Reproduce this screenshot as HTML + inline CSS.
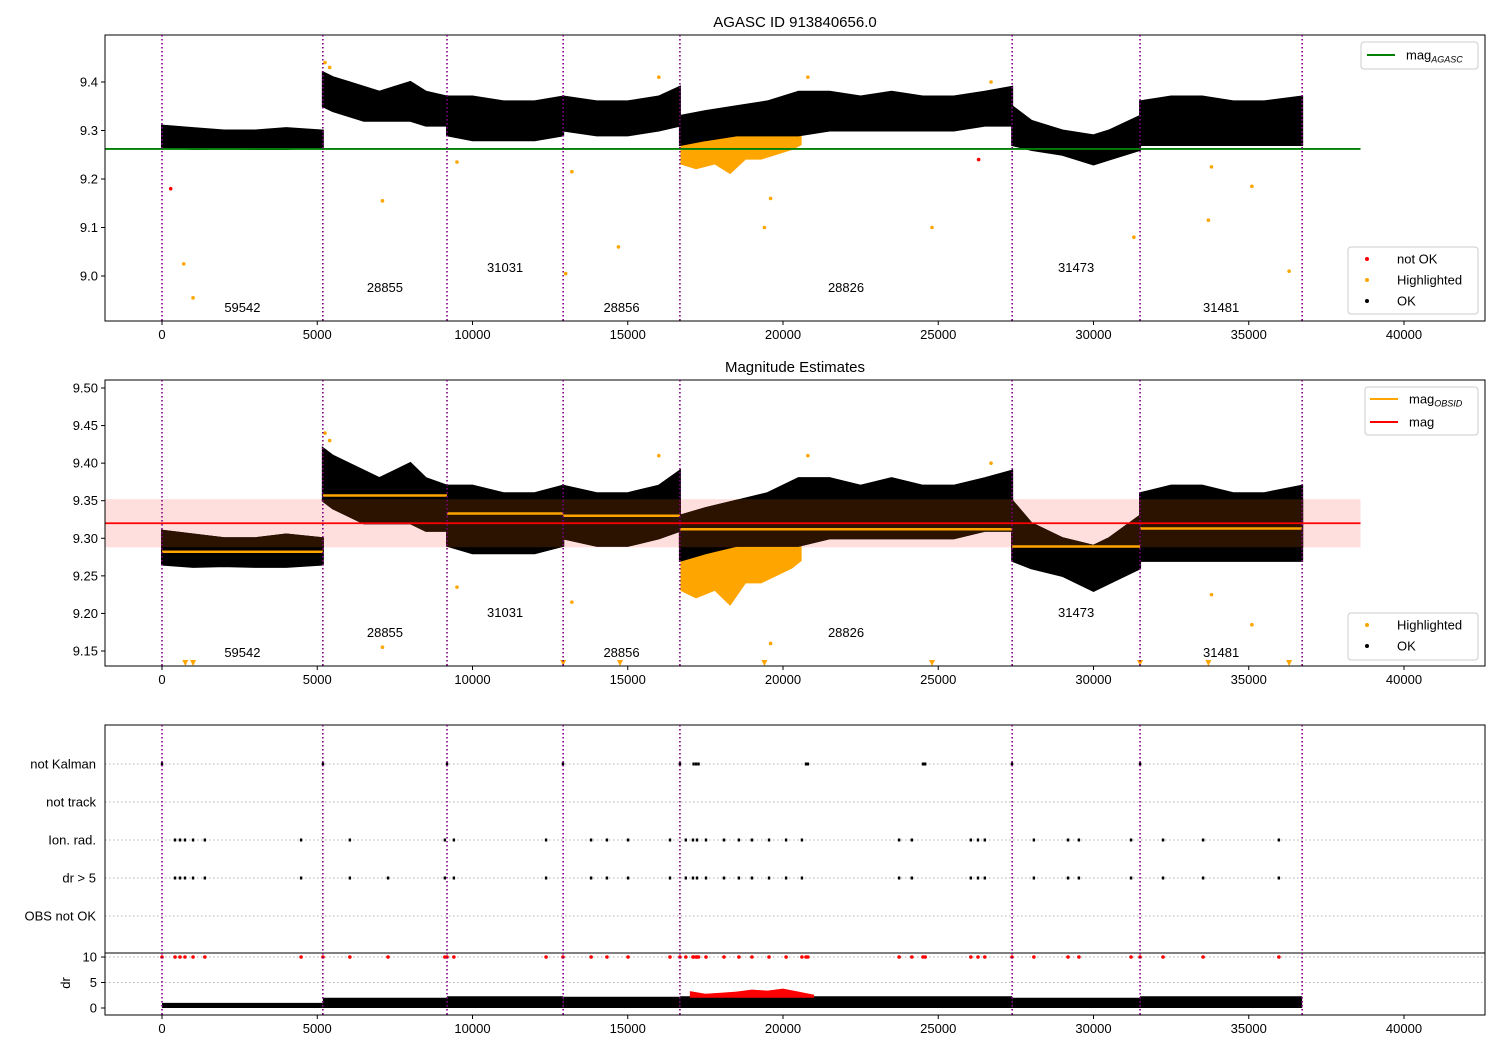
<!DOCTYPE html>
<html><head><meta charset="utf-8"><style>
body{margin:0;background:#fff;}
svg{display:block;font-family:"Liberation Sans","DejaVu Sans",sans-serif;}
</style></head><body>
<svg id="fig" width="1500" height="1050" viewBox="0 0 1500 1050">
<rect width="1500" height="1050" fill="#fff"/>
</svg>
<script>
// ---------------- data ----------------
const segStart = [0,5180,9180,12920,16680,27380,31500];
const segEnd   = [5180,9180,12920,16680,27380,31500,36720];
const obsids   = ['59542','28855','31031','28856','28826','31473','31481'];
const obsMag   = [9.282,9.357,9.333,9.330,9.312,9.289,9.313];
const labelLevel = [0,1,2,0,1,2,0];
const bandT  = [[0,1000,2000,3000,4000,5180],[5180,5500,6000,6500,7000,7500,8000,8500,9180],[9180,10000,11000,12000,12920],[12920,14000,15000,16000,16680],[16680,17500,18500,19500,20500,21500,22500,23500,24500,25500,26500,27380],[27380,28000,29000,30000,30500,31500],[31500,32500,33500,34500,35500,36720]];
const bandHi = [[9.31,9.305,9.30,9.30,9.305,9.30],[9.42,9.41,9.40,9.39,9.38,9.39,9.40,9.38,9.37],[9.37,9.37,9.36,9.36,9.37],[9.37,9.36,9.36,9.37,9.39],[9.33,9.34,9.35,9.36,9.38,9.38,9.37,9.38,9.37,9.37,9.38,9.39],[9.35,9.32,9.30,9.29,9.30,9.33],[9.36,9.37,9.37,9.36,9.36,9.37]];
const bandLo = [[9.265,9.262,9.263,9.262,9.262,9.265],[9.35,9.34,9.33,9.32,9.32,9.32,9.32,9.31,9.31],[9.29,9.28,9.28,9.28,9.29],[9.30,9.29,9.29,9.30,9.31],[9.27,9.28,9.29,9.29,9.29,9.30,9.30,9.30,9.30,9.30,9.31,9.31],[9.27,9.26,9.25,9.23,9.24,9.26],[9.27,9.27,9.27,9.27,9.27,9.27]];
const hlT  = [16700,17200,17800,18300,18800,19300,19800,20300,20600];
const hlLo = [9.23,9.22,9.23,9.21,9.24,9.24,9.25,9.26,9.27];
const outT   = [700,1000,7100,9500,13000,13200,14700,19400,19600,24800,31300,33700,33800,35100,36300,5250,5400,16000,20800,26700];
const outMag = [9.025,8.955,9.155,9.235,9.005,9.215,9.06,9.10,9.16,9.10,9.08,9.115,9.225,9.185,9.01,9.44,9.43,9.41,9.41,9.40];
const badT   = [280,26300];
const badMag = [9.18,9.24];
const triT = [750,1000,12920,14750,19400,24800,31500,33700,36300];
const magAgasc = 9.262;
const magMean = 9.320, magLo = 9.288, magHi = 9.352;
const flagRows = ['not Kalman','not track','Ion. rad.','dr > 5','OBS not OK'];
const kalmanT = [0,5185,9180,12915,16680,17120,17200,17280,20740,20800,24510,24580,27375,31500];
const ionT = [420,580,740,1000,1380,4480,6050,9110,9400,12370,13820,14330,15010,16360,16870,17100,17230,17520,18100,18580,19000,19550,20100,20610,23740,24150,26050,26280,26500,28080,29180,29530,31210,32240,33530,35970];
const drBigT = [420,580,740,1000,1380,4480,6050,7280,9110,9400,12370,13820,14330,15010,16360,16870,17100,17230,17520,18100,18580,19000,19550,20100,20610,23740,24150,26050,26280,26500,28080,29180,29530,31210,32240,33530,35970];
const drHi = [1.0,2.0,2.3,2.2,2.3,2.0,2.3];
const drRedT = [17000,17500,18000,18500,19000,19500,20000,20500,21000];
const drRedV = [3.3,2.8,3.0,3.2,3.6,3.4,3.8,3.2,2.6];
const xTicks = [0,5000,10000,15000,20000,25000,30000,35000,40000];
const y1Ticks = [9.0,9.1,9.2,9.3,9.4];
const y2Ticks = [9.15,9.20,9.25,9.30,9.35,9.40,9.45,9.50];
const drTicks = [0,5,10];

// ---------------- scales ----------------
const X = t => 162 + t*0.03105;
const Y1 = m => 82 + (9.4-m)*485;
const Y2 = m => 388 + (9.5-m)*751.4;
const rowY = i => 764 + i*38;
const Yd = v => 1008 - v*5.1;
const svg = document.getElementById('fig');
const NS='http://www.w3.org/2000/svg';
function mk(tag, at, parent){const e=document.createElementNS(NS,tag);for(const k in at)e.setAttribute(k,at[k]);(parent||svg).appendChild(e);return e;}
function txt(s,x,y,at){const e=mk('text',Object.assign({x:x,y:y,'font-size':13,fill:'#000'},at||{}));e.textContent=s;return e;}

const panels=[{y0:35,y1:321,Y:Y1,ticks:y1Ticks,dec:1},{y0:380,y1:666,Y:Y2,ticks:y2Ticks,dec:2}];

function clip(id,x,y0,w,y1){const d=mk('clipPath',{id:id});mk('rect',{x:x,y:y0,width:w,height:y1-y0},d);}
clip('c1',105,35,1380,321);clip('c2',105,380,1380,666);clip('c3',105,725,1380,1015);
clip('cpink',105,Y2(magHi),X(38600)-105,Y2(magLo));

function bandPoints(p,si){
  const ts=bandT[si];
  const a=ts.map((t,i)=>X(t)+','+p.Y(bandHi[si][i]));
  const b=ts.map((t,i)=>X(t)+','+p.Y(bandLo[si][i])).reverse();
  return a.concat(b).join(' ');
}

panels.forEach((p,pi)=>{
  const g=mk('g',{'clip-path':'url(#c'+(pi+1)+')'});
  
  
  if(pi===1){
    const band=mk('rect',{x:105,y:p.Y(magHi),width:X(38600)-105,height:p.Y(magLo)-p.Y(magHi),fill:'#ffdede'},g);
    
    
  }
  let pts=hlT.map((t,i)=>X(t)+','+p.Y(hlLo[i])).join(' ')+' '+X(hlT[hlT.length-1])+','+p.Y(9.29)+' '+X(hlT[0])+','+p.Y(9.29);
  const hl=mk('polygon',{points:pts,fill:'orange'},g);
  
  
  bandT.forEach((ts,si)=>{
    const poly=mk('polygon',{points:bandPoints(p,si),fill:'#000',stroke:'#000','stroke-width':2},g);
    
    
  });
  if(pi===1){
    const gp=mk('g',{'clip-path':'url(#cpink)'},g);
    bandT.forEach((ts,si)=>{
      const ov=mk('polygon',{points:bandPoints(p,si),fill:'#2b1300',stroke:'#2b1300','stroke-width':2},gp);
      
      
    });
    bandT.forEach((ts,si)=>{
      const l=mk('line',{x1:X(segStart[si]),x2:X(segEnd[si]),y1:p.Y(obsMag[si]),y2:p.Y(obsMag[si]),stroke:'orange','stroke-width':2.5},g);
      
      
    });
  }
  outT.forEach((t,i)=>{
    const c=mk('circle',{cx:X(t),cy:p.Y(outMag[i]),r:1.8,fill:'orange'},g);
    
    
  });
  if(pi===0){
    badT.forEach((t,i)=>{
      const c=mk('circle',{cx:X(t),cy:p.Y(badMag[i]),r:1.8,fill:'red'},g);
      
      
    });
    const gl=mk('line',{x1:105,x2:X(38600),y1:p.Y(magAgasc),y2:p.Y(magAgasc),stroke:'green','stroke-width':1.8},g);
    
    
  } else {
    const rl=mk('line',{x1:105,x2:X(38600),y1:p.Y(magMean),y2:p.Y(magMean),stroke:'red','stroke-width':1.8},g);
    
    
    triT.forEach(t=>{
      const x=X(t);
      const tr=mk('polygon',{points:(x-3)+',660 '+(x+3)+',660 '+x+',666',fill:'orange'},g);
      
      
    });
  }
  obsids.forEach((o,i)=>{
    const tx=(segStart[i]+segEnd[i])/2;
    const yy=(pi===0?312:657)-labelLevel[i]*20;
    const l=txt(o,X(tx),yy,{'text-anchor':'middle'});
    
    
  });
  const fr=mk('rect',{x:105,y:p.y0,width:1380,height:p.y1-p.y0,fill:'none',stroke:'#000','stroke-width':1});
  
  
  p.ticks.forEach(v=>{
    const y=p.Y(v);
    mk('line',{x1:101,x2:105,y1:y,y2:y,stroke:'#000'});
    const l=txt(v.toFixed(p.dec),98,y+4.5,{'text-anchor':'end'});
    
    
  });
  xTicks.forEach(v=>{
    const x=X(v);
    mk('line',{x1:x,x2:x,y1:p.y1,y2:p.y1+4,stroke:'#000'});
    const l=txt(String(v),x,p.y1+18,{'text-anchor':'middle'});
    
    
  });
});

// flags panel
const g3=mk('g',{'clip-path':'url(#c3)'});


flagRows.forEach((r,i)=>{
  mk('line',{x1:105,x2:1485,y1:rowY(i),y2:rowY(i),stroke:'#b0b0b0','stroke-dasharray':'1.5,2.5'},g3);
  const l=txt(r,96,rowY(i)+4.5,{'text-anchor':'end'});
  
  
});
[[kalmanT,0],[ionT,2],[drBigT,3]].forEach(([arr,row])=>{
  arr.forEach(t=>{
    const c=mk('rect',{x:X(t)-1.2,y:rowY(row)-1.5,width:2.4,height:3,fill:'#000'},g3);
    
    
  });
});
[5,10].forEach(v=>mk('line',{x1:105,x2:1485,y1:Yd(v),y2:Yd(v),stroke:'#b0b0b0','stroke-dasharray':'1.5,2.5'},g3));
segStart.forEach((s,i)=>{
  const a=[X(s)+','+Yd(drHi[i]),X(segEnd[i])+','+Yd(drHi[i]),X(segEnd[i])+','+Yd(0),X(s)+','+Yd(0)];
  const p=mk('polygon',{points:a.join(' '),fill:'#000'},g3);
  
  
});
const rp=drRedT.map((t,i)=>X(t)+','+Yd(drRedV[i])).join(' ')+' '+X(21000)+','+Yd(2)+' '+X(17000)+','+Yd(2);
const rpo=mk('polygon',{points:rp,fill:'red'},g3);


drBigT.concat(kalmanT).forEach(t=>{
  const c=mk('circle',{cx:X(t),cy:Yd(10),r:1.8,fill:'red'},g3);
  
  
});
const f3=mk('rect',{x:105,y:725,width:1380,height:290,fill:'none',stroke:'#000'});


mk('line',{x1:105,x2:1485,y1:953,y2:953,stroke:'#000'});
drTicks.forEach(v=>{
  mk('line',{x1:101,x2:105,y1:Yd(v),y2:Yd(v),stroke:'#000'});
  const l=txt(String(v),97,Yd(v)+4.5,{'text-anchor':'end'});
  
  
});
xTicks.forEach(v=>{
  const x=X(v);
  mk('line',{x1:x,x2:x,y1:1015,y2:1019,stroke:'#000'});
  const l=txt(String(v),x,1033,{'text-anchor':'middle'});
  
  
});
const dl=txt('dr',70,983,{'text-anchor':'middle',transform:'rotate(-90 70 983)'});



const bounds=segStart.concat([segEnd[segEnd.length-1]]);
[[35,321],[380,666],[725,1015]].forEach(([a,b])=>{
  bounds.forEach(t=>{
    const l=mk('line',{x1:X(t),x2:X(t),y1:a,y2:b,stroke:'purple','stroke-width':1.6,'stroke-dasharray':'1.5,2.5'});
    
    
  });
});

const t1=txt('AGASC ID 913840656.0',795,27,{'text-anchor':'middle','font-size':15});


const t2=txt('Magnitude Estimates',795,372,{'text-anchor':'middle','font-size':15});



function legendBox(x,y,w,h,name){const r=mk('rect',{x:x,y:y,width:w,height:h,rx:3,fill:'#fff','fill-opacity':0.85,stroke:'#ccc'});}
function lineEntry(x,y,color,main,sub){
  mk('line',{x1:x,x2:x+28,y1:y,y2:y,stroke:color,'stroke-width':2});
  const t=txt(main,x+39,y+4.5);
  
  
  if(sub){const s=mk('tspan',{'font-size':9,'font-style':'italic',dy:3});s.textContent=sub;t.appendChild(s);}
}
function dotEntry(x,y,color,label){
  mk('circle',{cx:x+14,cy:y,r:2,fill:color});
  const t=txt(label,x+44,y+4.5);
  
  
}
legendBox(1361,42,117,27,'legend-agasc');lineEntry(1367,55,'green','mag','AGASC');
legendBox(1348,247,130,67,'legend-status');dotEntry(1353,259,'red','not OK');dotEntry(1353,280,'orange','Highlighted');dotEntry(1353,301,'#000','OK');
legendBox(1365,387,113,48,'legend-mag');lineEntry(1370,399,'orange','mag','OBSID');lineEntry(1370,422,'red','mag');
legendBox(1348,613,130,47,'legend-points');dotEntry(1353,625,'orange','Highlighted');dotEntry(1353,646,'#000','OK');
</script>
</body></html>
